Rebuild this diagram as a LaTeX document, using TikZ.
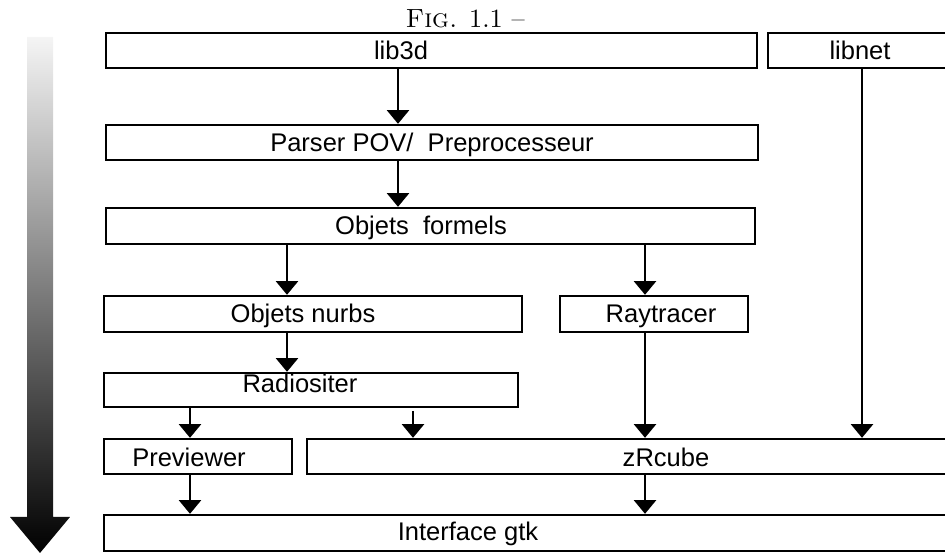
\documentclass[tikz,border=0pt]{standalone}
\usepackage{fontspec}
\newfontfamily\arialfont{Liberation Sans}
\usetikzlibrary{arrows.meta}
\tikzset{
  modbox/.style={draw, line width=0.9pt, inner sep=0pt},
  modtxt/.style={font=\arialfont\fontsize{9.7}{11.6}\selectfont, anchor=base, inner sep=0pt},
  flow/.style={line width=0.8pt, -{Triangle[width=8.4pt,length=5.2pt]}},
}
% box from (x1,y1) to (x2,y2), in pixels of the original figure
\newcommand{\module}[5]{%
  \node[modbox, minimum width={(#4-#2)*0.38pt}, minimum height={(#5-#3)*0.38pt}]
    (#1) at ({(#2+#4)/2},{(#3+#5)/2}) {};}
\begin{document}
\begin{tikzpicture}[x=0.38pt,y=-0.38pt]
\useasboundingbox (0,0) rectangle (945,555);
\node[anchor=base west, inner sep=0pt, font=\fontsize{10}{12}\selectfont] (title) at (405,28) {\textsc{Fig.} 1.1 --};
% time arrow
\shade[top color=black!4, bottom color=black]
  (27,37) -- (53,37) -- (53,517) -- (70,517) -- (40,553) -- (10,517) -- (27,517) -- cycle;
% modules
\module{lib3d}{106}{33}{757}{68}
\module{libnet}{768}{33}{960}{68}
\module{parser}{106}{125}{758}{160}
\module{formels}{106}{208}{755}{244}
\module{nurbs}{104}{296}{522}{332}
\module{ray}{560}{296}{748}{332}
\module{radio}{104}{373}{518}{407}
\module{prev}{104}{439}{292}{474}
\module{zr}{307}{439}{960}{474}
\module{gtk}{104}{515}{960}{551}
\node[modtxt] (lib3d-t) at (401,60) {lib3d};
\node[modtxt] (libnet-t) at (860,60) {libnet};
\node[modtxt] (parser-t) at (432,151.5) {Parser POV/\ \ Preprocesseur};
\node[modtxt] (formels-t) at (421,235) {Objets\ \ formels};
\node[modtxt] (nurbs-t) at (303,323) {Objets nurbs};
\node[modtxt] (ray-t) at (661,323) {Raytracer};
\node[modtxt] (radio-t) at (300,393) {Radiositer};
\node[modtxt] (prev-t) at (189,466.5) {Previewer};
\node[modtxt] (zr-t) at (666,466.5) {zRcube};
\node[modtxt] (gtk-t) at (468,541) {Interface gtk};
% arrow columns
\coordinate (xmain) at (398,0);
\coordinate (xnurbs) at (287,0);
\coordinate (xray) at (645,0);
\coordinate (xprev) at (190,0);
\coordinate (xrad) at (413,0);
\coordinate (xnet) at (862,0);
\draw[flow] (lib3d.south -| xmain) -- (parser.north -| xmain);
\draw[flow] (parser.south -| xmain) -- (formels.north -| xmain);
\draw[flow] (formels.south -| xnurbs) -- (nurbs.north -| xnurbs);
\draw[flow] (formels.south -| xray) -- (ray.north -| xray);
\draw[flow] (nurbs.south -| xnurbs) -- (radio.north -| xnurbs);
\draw[flow] (radio.south -| xprev) -- (prev.north -| xprev);
\draw[flow, shorten <=1pt] (radio.south -| xrad) -- (zr.north -| xrad);
\draw[flow] (ray.south -| xray) -- (zr.north -| xray);
\draw[flow] (libnet.south -| xnet) -- (zr.north -| xnet);
\draw[flow] (prev.south -| xprev) -- (gtk.north -| xprev);
\draw[flow] (zr.south -| xray) -- (gtk.north -| xray);
\end{tikzpicture}
\end{document}
